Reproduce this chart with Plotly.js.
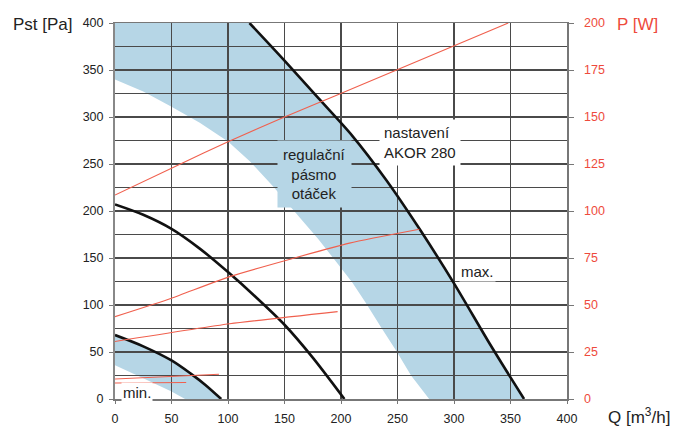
<!DOCTYPE html>
<html>
<head>
<meta charset="utf-8">
<script src="https://cdn.plot.ly/plotly-3.0.1.min.js"></script>
<style>html,body{margin:0;padding:0;background:#fff;}#chart{width:675px;height:426px;}</style>
</head>
<body>
<div id="chart"></div>
<script>
// Fan curves: Q [m3/h] vs Pst [Pa]
const qMax = [119, 150, 180, 210, 240, 270, 300, 330, 350, 362];
const pMax = [400, 360, 320, 280, 233, 180, 123, 62, 23, 0];
const qMid = [0, 25, 50, 75, 100, 125, 150, 175, 203];
const pMid = [207, 196, 181, 160, 135, 108, 79, 44, 0];
const qMin = [0, 25, 50, 67, 80, 94];
const pMin = [68, 56, 41, 27, 15, 0];
// lower edge of the regulation band (AKOR 280)
const qBandLow = [0, 25, 50, 75, 100, 120, 140, 160, 180, 195, 210, 222, 235, 249, 262, 278];
const pBandLow = [340, 327, 311, 294, 274, 252, 226, 198, 170, 147, 124, 102, 77, 51, 25, 0];
// lower edge of the small band below the min. curve
const qMinLow = [0, 25, 50, 62];
const pMinLow = [36, 22, 8, 0];
// Power curves P [W]
const qW1 = [0, 57, 100, 150, 194, 348];
const w1 = [108.5, 124.8, 136.8, 150, 161, 200];
const qW2 = [0, 50, 101.5, 207.5, 269.3];
const w2 = [43.8, 53.6, 65.1, 82.9, 90.3];
const qW3 = [0, 101.5, 197];
const w3 = [30.6, 40, 46.5];
const qW4 = [0, 92];
const w4 = [10.6, 13.2];
const qW5 = [0, 63];
const w5 = [8.5, 8.8];

const xTicks = [0, 50, 100, 150, 200, 250, 300, 350, 400];

const BLUE = '#b6d6e6';
const RED = '#ee4a3c';
const REDLINE = '#f0604e';
const FONT = 'Liberation Sans, Arial, Helvetica, sans-serif';

function pts(q, p) { return q.map((v, i) => v + ',' + p[i]); }
const bigPath = 'M ' + [qBandLow[0] + ',' + pMax[0]]
  .concat(pts(qMax, pMax))
  .concat(pts(qBandLow.slice().reverse(), pBandLow.slice().reverse()))
  .join(' L ') + ' Z';
const smallPath = 'M ' + pts(qMin, pMin)
  .concat(pts(qMinLow.slice().reverse(), pMinLow.slice().reverse()))
  .join(' L ') + ' Z';

function blackLine(q, p) {
  return {x: q, y: p, mode: 'lines', line: {color: '#111', width: 2.6, shape: 'spline', smoothing: 0.8}, hoverinfo: 'skip'};
}
function redLine(q, w) {
  return {x: q, y: w, yaxis: 'y2', mode: 'lines', line: {color: REDLINE, width: 1.1, shape: 'spline', smoothing: 0.5}, hoverinfo: 'skip'};
}

const data = [
  redLine(qW1, w1), redLine(qW2, w2), redLine(qW3, w3), redLine(qW4, w4), redLine(qW5, w5),
  blackLine(qMax, pMax), blackLine(qMid, pMid), blackLine(qMin, pMin)
];

const grid = '#4a4a4a';
const layout = {
  width: 675, height: 426,
  margin: {l: 115, r: 108, t: 23, b: 27, pad: 0},
  paper_bgcolor: '#fff', plot_bgcolor: '#fff',
  showlegend: false, hovermode: false,
  font: {family: FONT, color: '#222'},
  xaxis: {
    range: [0, 400], tickvals: xTicks, showgrid: true, gridcolor: grid, gridwidth: 1.2,
    zeroline: false, showline: true, linecolor: '#777', linewidth: 1.5, mirror: true,
    ticks: 'outside', ticklen: 3, tickcolor: '#777', tickfont: {size: 12.5, color: '#222', family: FONT},
    ticklabelstandoff: 4
  },
  yaxis: {
    range: [0, 400], dtick: 50, tick0: 0, showgrid: true, gridcolor: grid, gridwidth: 1.2,
    minor: {dtick: 25, showgrid: true, gridcolor: grid, gridwidth: 1.2, ticks: ''},
    zeroline: false, showline: true, linecolor: '#888', linewidth: 2,
    ticks: 'outside', ticklen: 4, tickcolor: '#777', tickfont: {size: 12.5, color: '#222', family: FONT},
    ticklabelstandoff: 3
  },
  yaxis2: {
    overlaying: 'y', side: 'right', range: [0, 200], dtick: 25, tick0: 0,
    showgrid: false, zeroline: false, showline: true, linecolor: '#777', linewidth: 1.5,
    ticks: 'outside', ticklen: 5, tickcolor: '#777', tickfont: {size: 12.5, color: RED, family: FONT},
    ticklabelstandoff: 8
  },
  shapes: [
    {type: 'path', xref: 'x', yref: 'y', path: bigPath, fillcolor: BLUE, line: {width: 0}, layer: 'below'},
    {type: 'path', xref: 'x', yref: 'y', path: smallPath, fillcolor: BLUE, line: {width: 0}, layer: 'below'}
  ],
  annotations: [
    {text: 'Pst [Pa]', xref: 'paper', yref: 'paper', x: -0.159, y: 0.995, xanchor: 'center', yanchor: 'middle', showarrow: false, font: {size: 17, color: '#222', family: FONT}},
    {text: 'P [W]', xref: 'paper', yref: 'paper', x: 1.157, y: 0.995, xanchor: 'center', yanchor: 'middle', showarrow: false, font: {size: 17, color: RED, family: FONT}},
    {text: 'Q [m<sup>3</sup>/h]', xref: 'paper', yref: 'paper', x: 1.159, y: -0.045, xanchor: 'center', yanchor: 'middle', showarrow: false, font: {size: 17, color: '#222', family: FONT}},
    {text: 'nastavení<br>AKOR 280', xref: 'x', yref: 'y', x: 269.7, y: 273.4, xanchor: 'center', yanchor: 'middle', align: 'left', showarrow: false, bgcolor: '#fff', borderpad: 4, font: {size: 15, color: '#222', family: FONT}},
    {text: 'regulační<br>pásmo<br>otáček', xref: 'x', yref: 'y', x: 176.8, y: 239, xanchor: 'center', yanchor: 'middle', align: 'center', showarrow: false, bgcolor: BLUE, borderpad: 5, font: {size: 15, color: '#222', family: FONT}},
    {text: 'max.', xref: 'x', yref: 'y', x: 321, y: 136, xanchor: 'center', yanchor: 'middle', showarrow: false, bgcolor: '#fff', borderpad: 1, font: {size: 15, color: '#222', family: FONT}},
    {text: 'min.', xref: 'x', yref: 'y', x: 19.5, y: 7.4, xanchor: 'center', yanchor: 'middle', showarrow: false, bgcolor: '#fff', borderpad: 1, font: {size: 15, color: '#222', family: FONT}}
  ]
};

Plotly.newPlot('chart', data, layout, {staticPlot: true, displayModeBar: false});
</script>
</body>
</html>
